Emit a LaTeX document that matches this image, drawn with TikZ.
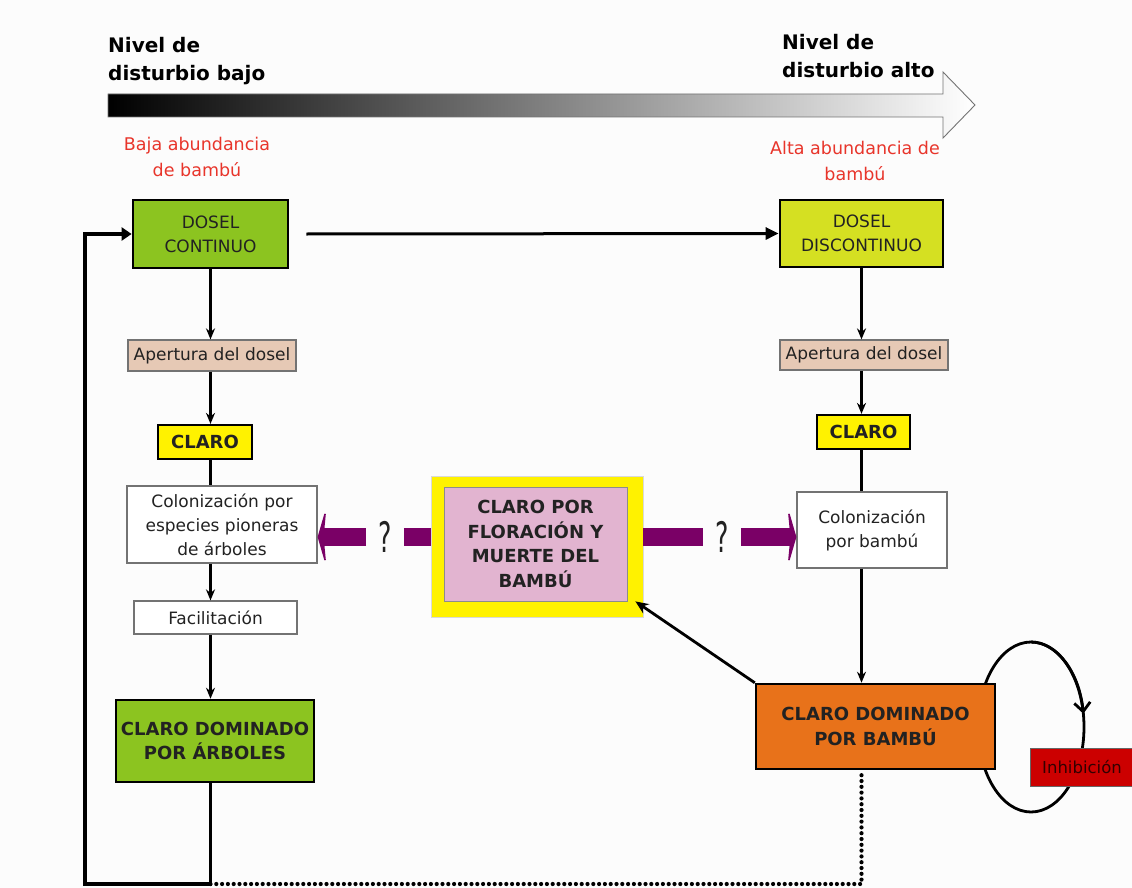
\documentclass[tikz,border=0pt]{standalone}
\usepackage{fontspec}
\setmainfont{DejaVu Sans}
\usetikzlibrary{arrows.meta}

\definecolor{bg}{HTML}{FCFCFC}
\definecolor{leafgreen}{HTML}{8CC420}
\definecolor{limegreen}{HTML}{D5E022}
\definecolor{tanbox}{HTML}{E6C9B5}
\definecolor{claroyellow}{HTML}{FFF200}
\definecolor{orangebox}{HTML}{E8721A}
\definecolor{inhred}{HTML}{CC0000}
\definecolor{pinkbox}{HTML}{E2B4D0}
\definecolor{purp}{HTML}{7A0066}
\definecolor{redtext}{HTML}{E8352B}
\definecolor{ink}{HTML}{222222}

\tikzset{
  box/.style={rectangle, inner sep=0pt, align=center, text=ink,
    font=\fontsize{17}{24}\selectfont},
  heavybox/.style={box, draw=black, line width=2.8pt},
  lightbox/.style={box, draw=black!55, line width=1.2pt},
  boldbox/.style={font=\fontsize{18}{24.5}\selectfont\bfseries},
  flow/.style={draw=black, line width=2.5pt, -{Stealth[length=11pt,width=9pt]}},
  link/.style={draw=black, line width=2.5pt},
  mainlink/.style={draw=black, line width=3pt},
  fat/.style={draw=purp, line width=18pt},
  fatarrow/.style={fat, -{Stealth[length=9pt,width=62pt,inset=3pt]}},
  query/.style={inner xsep=12pt, inner ysep=0pt, text=ink},
  title/.style={inner sep=0pt, align=left, text=black,
    font=\fontsize{20}{28.5}\selectfont\bfseries},
  note/.style={inner sep=0pt, align=center, text=redtext,
    font=\fontsize{17.5}{26}\selectfont},
}

\begin{document}
\begin{tikzpicture}[x=1pt,y=-1pt]
\useasboundingbox[fill=bg] (0,0) rectangle (1132,888);

% disturbance gradient arrow
\shade[left color=black, right color=white, draw=black!55, line width=0.9pt]
  (108,94) -- (943,94) -- (943,72) -- (975,105) -- (943,138) -- (943,117)
  -- (108,117) -- cycle;

\node[title, anchor=west] (lowt) at (108,61) {Nivel de\\disturbio bajo};
\node[title, anchor=west] (hight) at (782,56) {Nivel de\\disturbio alto};
\node[note] (lown) at (197,157) {Baja abundancia\\de bambú};
\node[note] (highn) at (855,161) {Alta abundancia de\\bambú};

% self-reinforcing loop behind the bamboo boxes
\coordinate (loopc) at (1031,727);
\draw[line width=2.8pt] (loopc) ellipse [x radius=53, y radius=85];
\draw[line width=2.8pt, -{Straight Barb[length=9pt,width=16pt]}]
  (1031,642) arc[start angle=-90, end angle=-9, x radius=53, y radius=85];

% left column
\node[heavybox, fill=leafgreen, minimum width=155, minimum height=68] (dc) at (210.5,234) {DOSEL\\CONTINUO};
\node[lightbox, fill=tanbox, minimum width=168, minimum height=31] (ap1) at (212,355.5) {Apertura del dosel};
\node[heavybox, boldbox, line width=2.2pt, fill=claroyellow, minimum width=94, minimum height=34] (cl1) at (205,442) {CLARO};
\node[lightbox, fill=white, minimum width=190, minimum height=77] (col1) at (222,524.5) {Colonización por\\especies pioneras\\de árboles};
\node[lightbox, fill=white, minimum width=163, minimum height=33] (fac) at (215.5,617.5) {Facilitación};
\node[heavybox, boldbox, line width=2.5pt, fill=leafgreen, minimum width=198, minimum height=82] (cda) at (215,741) {CLARO DOMINADO\\POR ÁRBOLES};

% right column
\node[heavybox, fill=limegreen, minimum width=163, minimum height=67] (dd) at (861.5,233.5) {DOSEL\\DISCONTINUO};
\node[lightbox, fill=tanbox, minimum width=168, minimum height=30] (ap2) at (864,355) {Apertura del dosel};
\node[heavybox, boldbox, line width=2.2pt, fill=claroyellow, minimum width=93, minimum height=34] (cl2) at (863.5,432) {CLARO};
\node[lightbox, fill=white, minimum width=150, minimum height=76] (col2) at (872,530) {Colonización\\por bambú};
\node[heavybox, boldbox, line width=2.5pt, fill=orangebox, minimum width=239, minimum height=85] (cdb) at (875.5,726.5) {CLARO DOMINADO\\POR BAMBÚ};
\node[box, draw=black!60, line width=1pt, fill=inhred, text=black!80!red, minimum width=104, minimum height=38,
  font=\fontsize{16.5}{20}\selectfont] (inh) at (1082,767) {Inhibición};

% central flowering gap
\node[box, fill=claroyellow, draw=black!15, line width=0.6pt, minimum width=212, minimum height=141] (cbo) at (537,546.5) {};
\node[box, boldbox, fill=pinkbox, draw=black!45, line width=0.8pt, minimum width=183, minimum height=114] (cbi) at (535.5,544) {CLARO POR\\FLORACIÓN Y\\MUERTE DEL\\BAMBÚ};

% uncertain outcomes of the flowering gap
\node[query] (q1) at (385,537) {\scalebox{0.6}[1]{\fontsize{42}{42}\selectfont ?}};
\node[query] (q2) at (722,537) {\scalebox{0.6}[1]{\fontsize{42}{42}\selectfont ?}};
\draw[fat] (q1.east) -- (q1.east -| cbo.west);
\draw[fatarrow] (q1.west) -- (q1.west -| col1.east);
\draw[fat] (q2.west -| cbo.east) -- (q2.west);
\draw[fatarrow] (q2.east) -- (q2.east -| col2.west);

% left column flow
\draw[flow] (dc.south) -- (ap1.north -| dc.south);
\draw[flow] (ap1.south -| dc.south) -- (cl1.north -| dc.south);
\draw[link] (cl1.south -| dc.south) -- (col1.north -| dc.south);
\draw[flow] (col1.south -| dc.south) -- (fac.north -| dc.south);
\draw[flow] (fac.south -| dc.south) -- (cda.north -| dc.south);

% right column flow
\draw[flow] (dd.south) -- (ap2.north -| dd.south);
\draw[flow] (ap2.south -| dd.south) -- (cl2.north -| dd.south);
\draw[link] (cl2.south -| dd.south) -- (col2.north -| dd.south);
\draw[flow] (col2.south -| dd.south) -- (cdb.north -| dd.south);

% canopy transition
\draw[mainlink, -{Triangle[length=13pt,width=12pt]}] ([xshift=17pt]dc.east) -- (dd.west);

% bamboo gap feeds the flowering gap
\draw[link, line width=2.8pt, -{Stealth[length=13pt,width=11pt]}] (cdb.north west) -- ([xshift=8pt]cbi.south east);

% return to the continuous canopy
\coordinate (bl) at (85,884);
\draw[mainlink, line width=3.5pt, -{Triangle[length=10pt,width=13pt]}]
  (cda.south -| dc.south) -- (dc.south |- bl) -- (bl) |- (dc.west);

% slow return from bamboo dominance
\draw[line width=4.2pt, line cap=round, dash pattern=on 0pt off 5.8pt]
  (dc.south |- bl) -- (dd.south |- bl) -- (cdb.south -| dd.south);
\end{tikzpicture}
\end{document}
